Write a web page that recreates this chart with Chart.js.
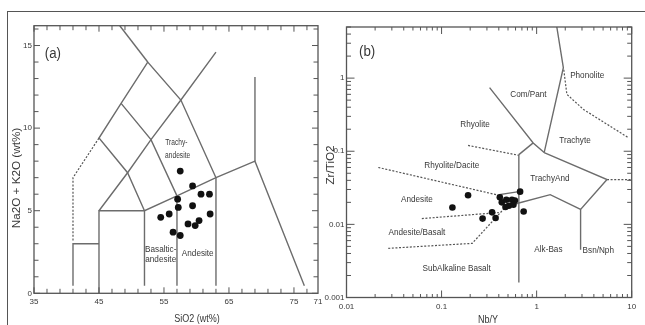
<!DOCTYPE html>
<html>
<head>
<meta charset="utf-8">
<script src="https://cdn.jsdelivr.net/npm/chart.js@4.4.0/dist/chart.umd.min.js"></script>
<style>
  body { margin: 0; background: #fff; width: 645px; height: 325px; overflow: hidden; position: relative; }
  #frame { position: absolute; left: 7px; top: 11px; width: 660px; height: 340px; border-left: 1.5px solid #555; border-top: 1.5px solid #555; }
  canvas { position: absolute; top: 0; }
  #tas { left: 0; }
  #wf { left: 320px; }
</style>
</head>
<body>
<div id="frame"></div>
<canvas id="tas" width="330" height="325"></canvas>
<canvas id="wf" width="325" height="325"></canvas>
<script>
// (a) TAS samples
const sio2   = [57.5, 59.4, 57.1, 57.2, 60.7, 62.0, 59.4, 54.5, 55.8, 62.1, 56.4, 57.5, 58.7, 59.8, 60.4];
const alkali = [7.4, 6.5, 5.7, 5.2, 6.0, 6.0, 5.3, 4.6, 4.8, 4.8, 3.7, 3.5, 4.2, 4.1, 4.4];

// (b) Nb/Y vs Zr/TiO2 samples
const nbY  = [0.19, 0.13, 0.27, 0.34, 0.37, 0.67, 0.73, 0.41, 0.43, 0.48, 0.51, 0.55, 0.59, 0.47, 0.57];
const zrTi = [0.025, 0.017, 0.012, 0.0146, 0.0122, 0.028, 0.015, 0.0234, 0.020, 0.0217, 0.018, 0.0217, 0.0212, 0.0173, 0.0186];

// tick labels
const tasXLabels = [35, 45, 55, 65, 75];
const tasYLabels = [0, 5, 10, 15];
const wfXLabels = [0.01, 0.1, 1, 10];
const wfYLabels = [0.001, 0.01, 0.1, 1];

// field boundaries (a)
const tasSolid = [
  [[41, 0.45], [41, 3], [45, 3]],
  [[45, 0], [45, 5], [52, 5], [57, 5.9], [63, 7], [69, 8], [76.6, 0.45]],
  [[52, 0.45], [52, 5]],
  [[57, 0.45], [57, 5.9]],
  [[63, 0.45], [63, 7]],
  [[69, 8], [69, 13.1]],
  [[45, 5], [49.4, 7.3], [53, 9.3], [57.6, 11.7], [63, 14.6]],
  [[52, 5], [49.4, 7.3], [45, 9.4], [48.4, 11.5], [52.5, 14], [57.6, 11.7], [63, 7]],
  [[57, 5.9], [53, 9.3], [48.4, 11.5]],
  [[52.5, 14], [48.2, 16.2]]
];
const tasDashed = [
  [[41, 3.2], [41, 7], [45, 9.4]]
];

// field boundaries (b)
const wfSolid = [
  [[0.65, 0.09], [0.65, 0.0016]],
  [[0.65, 0.09], [0.92, 0.13]],
  [[0.32, 0.74], [0.92, 0.13], [1.2, 0.096]],
  [[1.2, 0.096], [5.5, 0.041], [2.9, 0.016], [1.39, 0.0255], [0.65, 0.0196], [0.47, 0.0172]],
  [[0.42, 0.019], [0.41, 0.0255], [0.65, 0.028]],
  [[1.63, 5], [1.91, 1.39], [1.2, 0.096]],
  [[2.9, 0.016], [2.9, 0.0045]]
];
const wfDashed = [
  [[0.19, 0.12], [0.65, 0.088]],
  [[0.0216, 0.06], [0.4, 0.025]],
  [[0.062, 0.012], [0.4, 0.0145]],
  [[0.0275, 0.0047], [0.21, 0.0055], [0.47, 0.0172]],
  [[1.93, 1.3], [2.08, 0.6], [3.11, 0.373], [9.25, 0.153]],
  [[5.5, 0.041], [10, 0.041]]
];

// field names: text, x, y, font px
const tasNames = [
  ['Trachy-', 56.9, 9.1, 8.5], ['andesite', 57.1, 8.35, 8.5],
  ['Basaltic-', 54.5, 2.65, 9.5], ['andesite', 54.5, 2.05, 9.5],
  ['Andesite', 60.2, 2.4, 9.5]
];
const wfNames = [
  ['Phonolite', 3.4, 1.1, 9.5], ['Com/Pant', 0.82, 0.59, 9.5], ['Rhyolite', 0.225, 0.234, 9.5],
  ['Trachyte', 2.53, 0.143, 9.5], ['Rhyolite/Dacite', 0.128, 0.064, 9.5], ['TrachyAnd', 1.38, 0.043, 9.5],
  ['Andesite', 0.055, 0.022, 9.5], ['Andesite/Basalt', 0.055, 0.0078, 9.5], ['Alk-Bas', 1.33, 0.0045, 9.5],
  ['Bsn/Nph', 4.45, 0.0044, 9.5], ['SubAlkaline Basalt', 0.144, 0.0025, 9.5]
];

const FONT = '"Liberation Sans Narrow", "Arial Narrow", "Liberation Sans", Arial, sans-serif';
const LINE = '#6c6c6c';
const INK = '#383838';
Chart.defaults.font.family = FONT;
Chart.defaults.animation = false;

function boundarySets(solid, dashed) {
  const sets = [];
  solid.forEach(seg => sets.push({
    data: seg.map(([x, y]) => ({ x, y })), showLine: true, pointRadius: 0,
    borderColor: LINE, borderWidth: 1.4
  }));
  dashed.forEach(seg => sets.push({
    data: seg.map(([x, y]) => ({ x, y })), showLine: true, pointRadius: 0,
    borderColor: '#555', borderWidth: 1.2, borderDash: [2, 1.6]
  }));
  return sets;
}

// squeezed text, the original figure uses a narrow face
function narrowText(ctx, t, px, py, sx) {
  ctx.save();
  ctx.translate(px, py);
  ctx.scale(sx, 1);
  ctx.fillText(t, 0, 0);
  ctx.restore();
}

// frame, inward ticks, field names and axis titles
function decor(cfg) {
  return {
    id: 'decor',
    afterDatasetsDraw(chart) {
      const { ctx, chartArea: a, scales: { x, y } } = chart;
      ctx.save();
      ctx.strokeStyle = '#555';
      ctx.lineWidth = 1.3;
      ctx.strokeRect(a.left, a.top, a.right - a.left, a.bottom - a.top);
      ctx.lineWidth = 1;
      ctx.beginPath();
      cfg.xTicks.forEach(([v, len]) => {
        const px = x.getPixelForValue(v);
        ctx.moveTo(px, a.bottom); ctx.lineTo(px, a.bottom - len);
        ctx.moveTo(px, a.top); ctx.lineTo(px, a.top + len);
      });
      cfg.yTicks.forEach(([v, len]) => {
        const py = y.getPixelForValue(v);
        ctx.moveTo(a.left, py); ctx.lineTo(a.left + len, py);
        ctx.moveTo(a.right, py); ctx.lineTo(a.right - len, py);
      });
      ctx.stroke();

      ctx.fillStyle = INK;
      ctx.textAlign = 'center';
      ctx.textBaseline = 'middle';
      cfg.names.forEach(([t, vx, vy, fs]) => {
        ctx.font = fs + 'px ' + FONT;
        narrowText(ctx, t, x.getPixelForValue(vx), y.getPixelForValue(vy), fs < 9 ? 0.78 : 0.86);
      });

      ctx.font = '14px ' + FONT;
      narrowText(ctx, cfg.tag[0], x.getPixelForValue(cfg.tag[1]), y.getPixelForValue(cfg.tag[2]), 0.95);

      ctx.font = '10px ' + FONT;
      narrowText(ctx, cfg.xTitle, cfg.xTitlePos[0], cfg.xTitlePos[1], 0.9);
      ctx.translate(cfg.yTitlePos[0], cfg.yTitlePos[1]);
      ctx.rotate(-Math.PI / 2);
      ctx.scale(1.17, 1);
      ctx.fillText(cfg.yTitle, 0, 0);
      ctx.restore();
    }
  };
}

function axisBase(extra) {
  return Object.assign({
    grid: { display: false, drawTicks: false },
    border: { display: false }
  }, extra);
}

// (a) ticks
const tasXTicks = [];
for (let v = 35; v <= 78; v += 2) tasXTicks.push([v, tasXLabels.includes(v) ? 6 : 4.5]);
const tasYTicks = [];
for (let v = 0; v <= 16; v += 1) tasYTicks.push([v, tasYLabels.includes(v) ? 6 : 4.5]);

new Chart(document.getElementById('tas'), {
  type: 'scatter',
  data: {
    datasets: [{
      data: sio2.map((v, i) => ({ x: v, y: alkali[i] })),
      backgroundColor: '#111', borderColor: '#111', pointRadius: 3.4, borderWidth: 0
    }].concat(boundarySets(tasSolid, tasDashed))
  },
  options: {
    responsive: false,
    layout: { padding: { top: 25.7, right: 12, left: 0, bottom: 0 } },
    plugins: { legend: { display: false }, tooltip: { enabled: false } },
    scales: {
      x: axisBase({
        type: 'linear', min: 35, max: 78.7,
        afterBuildTicks: s => { s.ticks = tasXLabels.map(v => ({ value: v })).concat([{ value: 78.7 }]); },
        afterFit: s => { s.height = 31.7; },
        ticks: { padding: 4, color: INK, font: { size: 8 }, maxRotation: 0, autoSkip: false,
          callback: v => v === 78.7 ? '71' : String(v) }
      }),
      y: axisBase({
        type: 'linear', min: 0, max: 16.2,
        afterBuildTicks: s => { s.ticks = tasYLabels.map(v => ({ value: v })); },
        afterFit: s => { s.width = 34; },
        ticks: { padding: 2, color: INK, font: { size: 8 }, autoSkip: false }
      })
    }
  },
  plugins: [decor({
    xTicks: tasXTicks, yTicks: tasYTicks, names: tasNames, tag: ['(a)', 37.9, 14.5],
    xTitle: 'SiO2 (wt%)', xTitlePos: [197, 319],
    yTitle: 'Na2O + K2O (wt%)', yTitlePos: [17, 178]
  })]
});

// (b) ticks
const wfXTicks = [];
[0.01, 0.1, 1].forEach(d => { for (let k = 1; k <= 9; k++) wfXTicks.push([d * k, k === 1 ? 7 : 3.5]); });
wfXTicks.push([10, 7]);
const wfYTicks = [];
[0.001, 0.01, 0.1, 1].forEach(d => { for (let k = 1; k <= 9 && d * k <= 5; k++) wfYTicks.push([d * k, k === 1 ? 8 : 4.5]); });

new Chart(document.getElementById('wf'), {
  type: 'scatter',
  data: {
    datasets: [{
      data: nbY.map((v, i) => ({ x: v, y: zrTi[i] })),
      backgroundColor: '#111', borderColor: '#111', pointRadius: 3.3, borderWidth: 0
    }].concat(boundarySets(wfSolid, wfDashed))
  },
  options: {
    responsive: false,
    layout: { padding: { top: 27, right: 13.3, left: 0, bottom: 0 } },
    plugins: { legend: { display: false }, tooltip: { enabled: false } },
    scales: {
      x: axisBase({
        type: 'logarithmic', min: 0.01, max: 10,
        afterBuildTicks: s => { s.ticks = wfXLabels.map(v => ({ value: v })); },
        afterFit: s => { s.height = 27.5; },
        ticks: { padding: 4, color: INK, font: { size: 8 }, maxRotation: 0, autoSkip: false,
          callback: v => String(v) }
      }),
      y: axisBase({
        type: 'logarithmic', min: 0.001, max: 5,
        afterBuildTicks: s => { s.ticks = wfYLabels.map(v => ({ value: v })); },
        afterFit: s => { s.width = 26.5; },
        ticks: { padding: 2, color: INK, font: { size: 8 }, autoSkip: false,
          callback: v => String(v) }
      })
    }
  },
  plugins: [decor({
    xTicks: wfXTicks, yTicks: wfYTicks, names: wfNames, tag: ['(b)', 0.0165, 2.3],
    xTitle: 'Nb/Y', xTitlePos: [168, 320],
    yTitle: 'Zr/TiO2', yTitlePos: [11.5, 165]
  })]
});
</script>
</body>
</html>
